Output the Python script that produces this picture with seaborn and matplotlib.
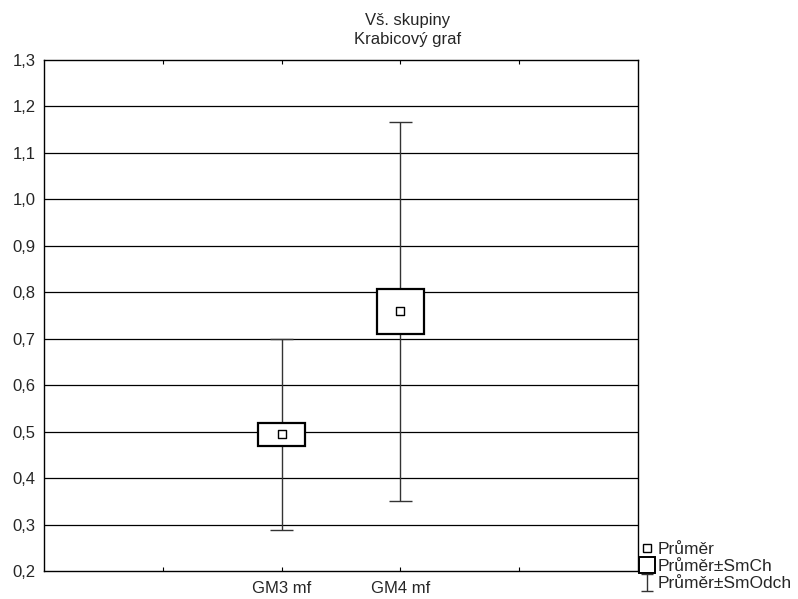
import numpy as np
import pandas as pd
import matplotlib
matplotlib.use('Agg')
import matplotlib.pyplot as plt
from matplotlib.patches import Rectangle
from matplotlib.lines import Line2D
import seaborn as sns

# data
categories = ['GM3 mf', 'GM4 mf']
positions = [2, 3]
means = [0.494, 0.759]
se = [0.025, 0.049]     # Průměr±SmCh (box)
sd = [0.206, 0.408]     # Průměr±SmOdch (whiskers)

sns.set_style('white')
plt.rcParams['font.family'] = ['Liberation Sans', 'DejaVu Sans']

fig = plt.figure(figsize=(7.98, 5.99), dpi=100)
ax = fig.add_axes([0.0551, 0.0467, 0.7444, 0.8531])

df = pd.DataFrame({'x': positions, 'mean': means, 'se': se, 'sd': sd, 'cat': categories})

# horizontal grid
for y in np.arange(0.3, 1.3, 0.1):
    ax.axhline(y, color='black', lw=0.9, zorder=0)

box_w = 0.2
cap_w = 0.1
for _, r in df.iterrows():
    ax.vlines(r['x'], r['mean'] - r['sd'], r['mean'] + r['sd'], color='#333333', lw=1.0, zorder=1)
    ax.hlines([r['mean'] - r['sd'], r['mean'] + r['sd']], r['x'] - cap_w, r['x'] + cap_w,
              color='#333333', lw=1.0, zorder=1)
    ax.add_patch(Rectangle((r['x'] - box_w, r['mean'] - r['se']), 2 * box_w, 2 * r['se'],
                           facecolor='white', edgecolor='black', lw=1.6, zorder=2))

sns.scatterplot(data=df, x='x', y='mean', marker='s', s=30, color='white',
                edgecolor='black', linewidth=1.0, zorder=3, ax=ax, legend=False)

ax.set_xlim(0, 5)
ax.set_ylim(0.2, 1.3)
ax.set_yticks(np.round(np.arange(0.2, 1.31, 0.1), 1))
ax.set_yticklabels([f'{v:.1f}'.replace('.', ',') for v in np.arange(0.2, 1.31, 0.1)], fontsize=12)
ax.set_xticks([1, 2, 3, 4])
ax.set_xticklabels(['', categories[0], categories[1], ''], fontsize=12)
ax.tick_params(axis='x', direction='in', length=3, top=True, bottom=True, color='black', pad=7)
ax.tick_params(axis='y', length=0, pad=6)
ax.set_xlabel('')
ax.set_ylabel('')
for s in ax.spines.values():
    s.set_color('black')
    s.set_linewidth(1.0)

fig.text(0.511, 0.966, 'Vš. skupiny', ha='center', va='center', fontsize=12)
fig.text(0.511, 0.934, 'Krabicový graf', ha='center', va='center', fontsize=12)

# legend
h_mean = Line2D([], [], marker='s', linestyle='none', markersize=6, markerfacecolor='white',
                markeredgecolor='black', markeredgewidth=1.0)
h_se = Line2D([], [], marker='s', linestyle='none', markersize=12, markerfacecolor='white',
              markeredgecolor='black', markeredgewidth=1.4)
h_sd = ax.errorbar([np.nan], [np.nan], yerr=[1], fmt='none', ecolor='#333333', capsize=4, lw=1)
fig.legend([h_mean, h_se, h_sd], ['Průměr', 'Průměr±SmCh', 'Průměr±SmOdch'],
           loc='lower left', bbox_to_anchor=(0.795, 0.004), frameon=False, fontsize=12.5,
           labelspacing=0.14, handlelength=0.8, handletextpad=0.25, borderpad=0.2,
           borderaxespad=0.1, handleheight=0.6)

fig.savefig('out.png', dpi=100)
